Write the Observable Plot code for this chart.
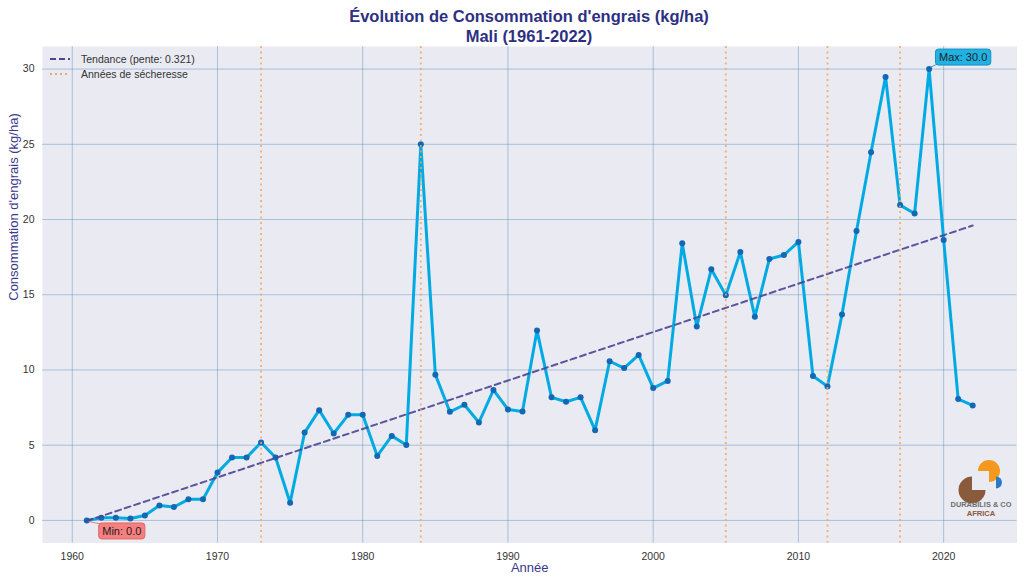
<!DOCTYPE html>
<html>
<head>
<meta charset="utf-8">
<script src="https://cdn.jsdelivr.net/npm/d3@7"></script>
<script src="https://cdn.jsdelivr.net/npm/@observablehq/plot@0.6"></script>
<style>
  body { margin:0; width:1024px; height:582px; background:#fff; position:relative; overflow:hidden; font-family:"Liberation Sans", Arial, sans-serif; }
  #title { position:absolute; left:42px; top:7px; width:974px; text-align:center; font-weight:bold; font-size:16.5px; line-height:19.5px; color:#2d3082; }
  #chart { position:absolute; left:0; top:40px; }
  #legend { position:absolute; left:44px; top:52px; font-size:10.5px; color:#333; }
  #legend .row { position:relative; height:15px; }
  #legend svg { position:absolute; left:5px; top:1px; }
  #legend span { position:absolute; left:37px; top:0px; white-space:nowrap; line-height:14px; }
  #logo { position:absolute; left:950px; top:450px; }
</style>
</head>
<body>
<div id="title">Évolution de Consommation d'engrais (kg/ha)<br>Mali (1961-2022)</div>
<div id="chart"></div>
<div id="legend">
  <div class="row"><svg width="24" height="12"><line x1="1" y1="6" x2="21" y2="6" stroke="#4b4594" stroke-width="2" stroke-dasharray="6,3"/></svg><span>Tendance (pente: 0.321)</span></div>
  <div class="row"><svg width="24" height="12"><line x1="1" y1="6" x2="21" y2="6" stroke="#f4a868" stroke-width="1.8" stroke-dasharray="2,3"/></svg><span>Années de sécheresse</span></div>
</div>
<svg id="logo" width="70" height="72" viewBox="0 0 70 72">
  <path d="M22,40 L22,26.5 A13.5,13.5 0 1 0 35.5,40 Z" fill="#8a5a3c"/>
  <path d="M39,21 L28,21 A11,11 0 1 1 39,32 Z" fill="#f39a1e"/>
  <path d="M46,26.5 A6,6 0 0 1 46,38.5 Z" fill="#2a7ac9"/>
  <text x="31" y="57" text-anchor="middle" font-size="7.4" font-weight="bold" fill="#6e6e6e" font-family="Liberation Sans, Arial">DURABILIS &amp; CO</text>
  <text x="31" y="65.5" text-anchor="middle" font-size="7.6" font-weight="bold" fill="#8a5a3c" font-family="Liberation Sans, Arial">AFRICA</text>
</svg>
<script>
const years = [1961,1962,1963,1964,1965,1966,1967,1968,1969,1970,
  1971,1972,1973,1974,1975,1976,1977,1978,1979,1980,
  1981,1982,1983,1984,1985,1986,1987,1988,1989,1990,
  1991,1992,1993,1994,1995,1996,1997,1998,1999,2000,
  2001,2002,2003,2004,2005,2006,2007,2008,2009,2010,
  2011,2012,2013,2014,2015,2016,2017,2018,2019,2020,
  2021,2022];
const values = [0.0,0.18,0.18,0.13,0.33,1.0,0.89,1.4,1.4,3.18,
  4.18,4.18,5.18,4.18,1.18,5.84,7.33,5.78,7.02,7.02,
  4.29,5.62,5.02,25.0,9.69,7.22,7.69,6.51,8.67,7.38,
  7.24,12.62,8.18,7.89,8.18,6.0,10.58,10.13,11.0,8.8,
  9.27,18.42,12.89,16.69,14.96,17.84,13.53,17.38,17.64,18.51,
  9.6,8.91,13.69,19.24,24.47,29.47,20.96,20.4,30.0,18.64,
  8.07,7.64];
const droughtYears = [1973,1984,2005,2012,2017];
const xTicks = [1960,1970,1980,1990,2000,2010,2020];
const yTicks = [0,5,10,15,20,25,30];

const data = years.map((y,i)=>({year:y, v:values[i]}));
const mx = d3.mean(years), my = d3.mean(values);
const slope = d3.sum(years, (x,i)=>(x-mx)*(values[i]-my)) / d3.sum(years, x=>(x-mx)**2);
const trend = [years[0], years[years.length-1]].map(x=>({year:x, v: my + slope*(x-mx)}));

const iMin = d3.minIndex(values), iMax = d3.maxIndex(values);
const minAnn = [{year:years[iMin], v:values[iMin], label:`Min: ${values[iMin].toFixed(1)}`}];
const maxAnn = [{year:years[iMax], v:values[iMax], label:`Max: ${values[iMax].toFixed(1)}`}];

const labelColor = "#3a3a8c";
const gridColor = "rgba(70,130,180,0.4)";

const chart = Plot.plot({
  width:1024, height:542,
  marginLeft:42, marginRight:7.5, marginTop:6, marginBottom:39.5,
  style:{background:"transparent", fontFamily:"Liberation Sans, Arial, sans-serif", fontSize:"10.5px", color:"#333"},
  x:{domain:[1957.95, 2025.05]},
  y:{domain:[-1.5, 31.5]},
  marks:[
    Plot.frame({fill:"#EAEAF2", stroke:"none"}),
    Plot.gridX(xTicks, {stroke:gridColor, strokeOpacity:1, strokeWidth:1}),
    Plot.gridY(yTicks, {stroke:gridColor, strokeOpacity:1, strokeWidth:1}),
    Plot.axisX(xTicks, {tickSize:0, tickPadding:10, tickFormat:d=>String(d), label:null, fill:"#333"}),
    Plot.axisY(yTicks, {tickSize:0, tickPadding:8, label:null, fill:"#333"}),
    Plot.line(data, {x:"year", y:"v", stroke:"#00AAE2", strokeWidth:3}),
    Plot.dot(data, {x:"year", y:"v", r:3, fill:"#1268b3", stroke:"none"}),
    Plot.line(trend, {x:"year", y:"v", stroke:"#4b4594", strokeOpacity:0.9, strokeWidth:2, strokeDasharray:"6,4"}),
    Plot.ruleX(droughtYears, {stroke:"#f4a460", strokeOpacity:0.85, strokeWidth:1.8, strokeDasharray:"2,3.5"}),
    Plot.text(minAnn, {x:"year", y:"v", text:"label", dx:35, dy:11, fontSize:11, fill:"#222", className:"ann-min"}),
    Plot.text(maxAnn, {x:"year", y:"v", text:"label", dx:34, dy:-11.5, fontSize:11, fill:"#222", className:"ann-max"}),
    Plot.text(["Année"], {frameAnchor:"bottom", dy:29, fontSize:13, fill:labelColor}),
    Plot.text(["Consommation d'engrais (kg/ha)"], {frameAnchor:"left", dx:-29, dy:6, rotate:-90, fontSize:13, fill:labelColor})
  ]
});
document.getElementById("chart").appendChild(chart);

const xs = chart.scale("x"), ys = chart.scale("y");
function boxify(cls, ann, fill, stroke, arrow) {
  const g = chart.querySelector("g." + cls);
  if (!g) return;
  const svgRect = chart.getBoundingClientRect();
  g.querySelectorAll("text").forEach(t => {
    const b = t.getBBox();
    const r = document.createElementNS("http://www.w3.org/2000/svg", "rect");
    r.setAttribute("x", b.x - 3.5); r.setAttribute("y", b.y - 2);
    r.setAttribute("width", b.width + 7); r.setAttribute("height", b.height + 4);
    r.setAttribute("rx", 3);
    r.setAttribute("fill", fill); r.setAttribute("stroke", stroke); r.setAttribute("stroke-width", 1);
    if (t.getAttribute("transform")) r.setAttribute("transform", t.getAttribute("transform"));
    g.insertBefore(r, t);
    const rb = r.getBoundingClientRect();
    const px = xs.apply(ann.year), py = ys.apply(ann.v);
    const sx = rb.left - svgRect.left + 2, sy = (arrow === "up" ? rb.top - svgRect.top + 1 : rb.bottom - svgRect.top - 1);
    const l = document.createElementNS("http://www.w3.org/2000/svg", "line");
    l.setAttribute("x1", sx); l.setAttribute("y1", sy); l.setAttribute("x2", px + 2); l.setAttribute("y2", py + (arrow === "up" ? 1.5 : -1.5));
    l.setAttribute("stroke", stroke); l.setAttribute("stroke-width", 0.8);
    chart.insertBefore(l, g);
  });
}
boxify("ann-min", minAnn[0], "#f77f7f", "#e06666", "up");
boxify("ann-max", maxAnn[0], "#1fb2e3", "#1391c0", "down");
</script>
</body>
</html>
